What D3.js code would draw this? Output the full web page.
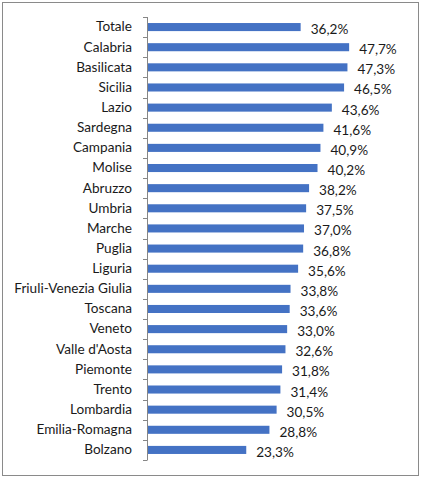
<!DOCTYPE html>
<html>
<head>
<meta charset="utf-8">
<script src="https://cdn.jsdelivr.net/npm/d3@7"></script>
<style>
  body { margin: 0; background: #fff; }
  svg { display: block; font-family: Lato, "Liberation Sans", sans-serif; }
</style>
</head>
<body>
<svg></svg>
<script>
// regions, top to bottom
const regions = [
  "Totale", "Calabria", "Basilicata", "Sicilia", "Lazio", "Sardegna",
  "Campania", "Molise", "Abruzzo", "Umbria", "Marche", "Puglia", "Liguria",
  "Friuli-Venezia Giulia", "Toscana", "Veneto", "Valle d'Aosta", "Piemonte",
  "Trento", "Lombardia", "Emilia-Romagna", "Bolzano"
];
const values = [
  36.2, 47.7, 47.3, 46.5, 43.6, 41.6, 40.9, 40.2, 38.2, 37.5, 37.0, 36.8,
  35.6, 33.8, 33.6, 33.0, 32.6, 31.8, 31.4, 30.5, 28.8, 23.3
];
const xDomain = [0, 60];

const w = 422;
const h = 479;
// plot area (where the bars live)
const plot = { left: 147, right: 401, top: 17, bottom: 460 };
const fontSize = 13.6;

const svg = d3.select("svg").attr("width", w).attr("height", h);

// outer frame
svg.append("rect")
  .attr("x", 2.5).attr("y", 2.5)
  .attr("width", w - 6).attr("height", h - 6)
  .attr("fill", "#fff")
  .attr("stroke", "#8a8a8a")
  .attr("stroke-width", 1);

const xScale = d3.scaleLinear()
  .domain(xDomain)
  .range([plot.left + 1, plot.right]);

const yScale = d3.scaleBand()
  .domain(regions)
  .range([plot.top, plot.bottom])
  .paddingInner(0.6)
  .paddingOuter(0.3);

const data = regions.map((r, i) => ({ region: r, value: values[i] }));

// bars
svg.append("g")
  .selectAll("rect")
  .data(data)
  .enter()
  .append("rect")
  .attr("x", xScale(0))
  .attr("y", d => yScale(d.region))
  .attr("width", d => xScale(d.value) - xScale(0))
  .attr("height", yScale.bandwidth())
  .attr("fill", "#4472c4");

// y axis: labels only, tick marks drawn on band edges below
const yAxis = svg.append("g")
  .attr("transform", `translate(${plot.left}, 0)`)
  .call(d3.axisLeft(yScale).tickSize(0).tickPadding(15));
yAxis.select(".domain").remove();
yAxis.selectAll("text")
  .attr("font-size", fontSize)
  .attr("fill", "#1a1a1a")
  .style("font-family", "Lato, 'Liberation Sans', sans-serif");

const edges = d3.range(regions.length + 1).map(i => plot.top + i * yScale.step());
const axisG = svg.append("g").attr("stroke", "#868686").attr("stroke-width", 1);
axisG.append("line")
  .attr("x1", plot.left + 0.5).attr("x2", plot.left + 0.5)
  .attr("y1", plot.top).attr("y2", plot.bottom);
axisG.selectAll(".tick-mark")
  .data(edges)
  .enter()
  .append("line")
  .attr("class", "tick-mark")
  .attr("x1", plot.left - 4).attr("x2", plot.left + 0.5)
  .attr("y1", d => Math.round(d) + 0.5)
  .attr("y2", d => Math.round(d) + 0.5);

// value labels
const fmt = d3.format(".1f");
svg.append("g")
  .selectAll("text")
  .data(data)
  .enter()
  .append("text")
  .attr("x", d => xScale(d.value) + 10)
  .attr("y", d => yScale(d.region) + yScale.bandwidth() / 2 + 7)
  .attr("font-size", fontSize)
  .attr("fill", "#1a1a1a")
  .text(d => fmt(d.value).replace(".", ",") + "%");
</script>
</body>
</html>
